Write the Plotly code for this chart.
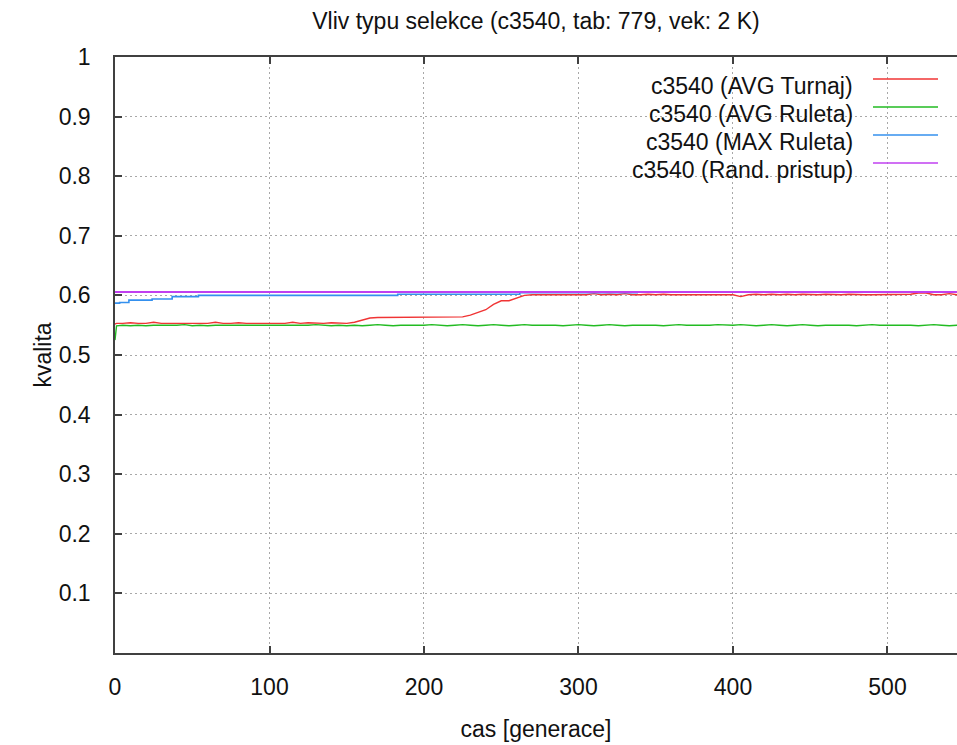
import plotly.graph_objects as go

# ---- data ----
generations = [0, 1] + list(range(5, 551, 5))

avg_turnaj = [
    0.552, 0.553,
    0.553, 0.554, 0.553, 0.553, 0.555, 0.553, 0.553, 0.553, 0.554, 0.553,
    0.553, 0.553, 0.555, 0.553, 0.553, 0.554, 0.553, 0.553, 0.553, 0.553,
    0.553, 0.553, 0.555, 0.553, 0.554, 0.553, 0.553, 0.554, 0.553, 0.553,
    0.555, 0.558, 0.562, 0.563, 0.563, 0.564, 0.563, 0.563, 0.564, 0.564,
    0.564, 0.564, 0.564, 0.564, 0.564, 0.567, 0.572, 0.576, 0.585, 0.591,
    0.591, 0.596, 0.600, 0.601, 0.601, 0.601, 0.601, 0.602, 0.601, 0.601,
    0.601, 0.603, 0.601, 0.602, 0.601, 0.603, 0.601, 0.601, 0.602, 0.601,
    0.602, 0.601, 0.601, 0.601, 0.602, 0.601, 0.601, 0.601, 0.601, 0.601,
    0.598, 0.601, 0.602, 0.601, 0.602, 0.601, 0.602, 0.601, 0.602, 0.601,
    0.601, 0.602, 0.601, 0.601, 0.602, 0.601, 0.601, 0.601, 0.601, 0.601,
    0.602, 0.601, 0.602, 0.604, 0.604, 0.601, 0.601, 0.603, 0.601, 0.601,
]

avg_ruleta = [
    0.525, 0.549,
    0.550, 0.549, 0.550, 0.549, 0.550, 0.550, 0.549, 0.550, 0.551, 0.549,
    0.550, 0.549, 0.550, 0.550, 0.549, 0.550, 0.549, 0.550, 0.549, 0.550,
    0.549, 0.550, 0.550, 0.549, 0.550, 0.551, 0.550, 0.549, 0.550, 0.549,
    0.550, 0.549, 0.550, 0.551, 0.550, 0.549, 0.550, 0.550, 0.549, 0.550,
    0.551, 0.550, 0.549, 0.550, 0.551, 0.550, 0.549, 0.550, 0.551, 0.550,
    0.549, 0.550, 0.551, 0.550, 0.550, 0.551, 0.550, 0.549, 0.550, 0.551,
    0.550, 0.549, 0.550, 0.551, 0.550, 0.549, 0.550, 0.550, 0.551, 0.550,
    0.549, 0.550, 0.551, 0.550, 0.550, 0.549, 0.550, 0.551, 0.550, 0.550,
    0.551, 0.550, 0.549, 0.550, 0.551, 0.550, 0.549, 0.550, 0.551, 0.550,
    0.549, 0.550, 0.550, 0.551, 0.550, 0.549, 0.550, 0.551, 0.550, 0.550,
    0.550, 0.551, 0.550, 0.549, 0.550, 0.551, 0.550, 0.549, 0.550, 0.550,
]

max_ruleta_gen = [0, 3, 9, 24, 37, 54, 183, 262, 338, 550]
max_ruleta = [0.587, 0.588, 0.592, 0.594, 0.598, 0.600, 0.602, 0.6045, 0.6057, 0.6057]

rand_gen = [0, 550]
rand_pristup = [0.6057, 0.6057]

series_names = ["c3540 (AVG Turnaj)", "c3540 (AVG Ruleta)",
                "c3540 (MAX Ruleta)", "c3540 (Rand. pristup)"]
series_colors = ["#f03434", "#22bb22", "#3490ee", "#c040f0"]

y_ticks = [0.1, 0.2, 0.3, 0.4, 0.5, 0.6, 0.7, 0.8, 0.9, 1.0]
y_ticktext = ["0.1", "0.2", "0.3", "0.4", "0.5", "0.6", "0.7", "0.8", "0.9", "1"]
x_ticks = [0, 100, 200, 300, 400, 500]

FONT = "Liberation Sans, Arial, sans-serif"
FS = 23

fig = go.Figure()
fig.add_trace(go.Scatter(x=generations, y=avg_turnaj, mode="lines",
                         line=dict(color=series_colors[0], width=1.4), name=series_names[0]))
fig.add_trace(go.Scatter(x=generations, y=avg_ruleta, mode="lines",
                         line=dict(color=series_colors[1], width=1.4), name=series_names[1]))
fig.add_trace(go.Scatter(x=max_ruleta_gen, y=max_ruleta, mode="lines", line_shape="hv",
                         line=dict(color=series_colors[2], width=1.6), name=series_names[2]))
fig.add_trace(go.Scatter(x=rand_gen, y=rand_pristup, mode="lines",
                         line=dict(color=series_colors[3], width=2), name=series_names[3]))

L, R, T, B, W, H = 115, 0, 57, 92, 957, 745
pw, ph = W - L - R, H - T - B

def px_x(p):
    return (p - L) / pw

def px_y(p):
    return (H - B - p) / ph

shapes = [dict(type="rect", xref="paper", yref="paper",
               x0=px_x(566), x1=px_x(951), y0=px_y(175), y1=px_y(63),
               fillcolor="white", line=dict(width=0), layer="between")]
annotations = []
line_ys = [79, 107, 135, 163]
text_ys = [86, 114, 142, 170]
for name, col, ly, ty in zip(series_names, series_colors, line_ys, text_ys):
    shapes.append(dict(type="line", xref="paper", yref="paper",
                       x0=px_x(873), x1=px_x(938), y0=px_y(ly), y1=px_y(ly),
                       line=dict(color=col, width=1.4), layer="above"))
    annotations.append(dict(text=name, xref="paper", yref="paper",
                            x=px_x(855), y=px_y(ty), xanchor="right", yanchor="middle",
                            showarrow=False, font=dict(family=FONT, size=FS, color="#111")))

fig.update_layout(
    width=W, height=H,
    margin=dict(l=L, r=R, t=T, b=B),
    paper_bgcolor="white", plot_bgcolor="white",
    showlegend=False,
    font=dict(family=FONT, size=FS, color="#111"),
    title=dict(text="Vliv typu selekce (c3540, tab: 779, vek: 2 K)",
               x=0.5, xref="paper", y=1 - 21 / H, yref="container",
               xanchor="center", yanchor="middle",
               font=dict(family=FONT, size=FS, color="#111")),
    shapes=shapes,
    annotations=annotations,
)
fig.update_xaxes(range=[0, 545], tickvals=x_ticks, ticks="inside", ticklen=7,
                 tickwidth=1.5, tickcolor="#404040",
                 showline=True, linecolor="#404040", linewidth=1.5, mirror="ticks",
                 showgrid=True, gridcolor="#a8a8a8", gridwidth=1, griddash="2px,3px",
                 zeroline=False, ticklabelstandoff=13,
                 title=dict(text="cas [generace]", standoff=22,
                            font=dict(family=FONT, size=FS, color="#111")))
fig.update_yaxes(range=[0, 1], tickvals=y_ticks, ticktext=y_ticktext, ticks="inside",
                 ticklen=7, tickwidth=1.5, tickcolor="#404040",
                 showline=True, linecolor="#404040", linewidth=1.5, mirror=False,
                 showgrid=True, gridcolor="#a8a8a8", gridwidth=1, griddash="2px,3px",
                 zeroline=False, ticklabelstandoff=18,
                 title=dict(text="kvalita", standoff=1,
                            font=dict(family=FONT, size=FS, color="#111")))

fig.write_html("out.html", config={"displayModeBar": False},
               post_script="document.body.style.margin='0';document.body.style.overflow='hidden';")
